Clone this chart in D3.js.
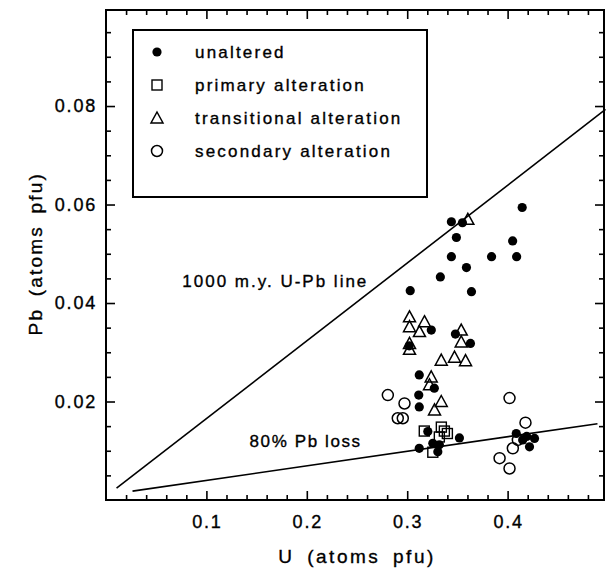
<!DOCTYPE html>
<html>
<head>
<meta charset="utf-8">
<script src="https://cdn.jsdelivr.net/npm/d3@7"></script>
<style>
  body { margin: 0; background: #fff; }
  text { font-family: "Liberation Sans", Arial, sans-serif; fill: #000; stroke: #000; stroke-width: 0.35px; }
</style>
</head>
<body>
<div id="chart-area"></div>
<script>
/* Data: [U, Pb] in atoms pfu */
var unaltered = [
  [0.344, 0.0565], [0.355, 0.0563], [0.349, 0.0533], [0.344, 0.0494], [0.359, 0.0472],
  [0.333, 0.0453], [0.303, 0.0425], [0.364, 0.0423], [0.384, 0.0494], [0.405, 0.0526],
  [0.409, 0.0494], [0.4145, 0.0594], [0.348, 0.0337], [0.363, 0.0318], [0.324, 0.0345],
  [0.302, 0.0313], [0.312, 0.0254], [0.327, 0.0227], [0.3115, 0.0213], [0.312, 0.0189],
  [0.3205, 0.0139], [0.312, 0.0105], [0.3255, 0.0115], [0.3305, 0.0098], [0.352, 0.0126],
  [0.332, 0.0112], [0.4086, 0.0135], [0.419, 0.0129], [0.4268, 0.0125], [0.4218, 0.0108],
  [0.415, 0.0122]
];
var primary = [
  [0.317, 0.0140], [0.334, 0.0148], [0.337, 0.0140], [0.340, 0.0135], [0.332, 0.0128],
  [0.3255, 0.0097]
];
var transitional = [
  [0.3604, 0.0570], [0.3538, 0.0345], [0.3538, 0.0321], [0.3471, 0.0290], [0.3581, 0.0283],
  [0.3339, 0.0284], [0.3023, 0.0372], [0.3023, 0.0352], [0.3172, 0.0362], [0.3122, 0.0342],
  [0.3023, 0.0318], [0.3023, 0.0306], [0.3239, 0.0250], [0.3222, 0.0234], [0.3339, 0.0200],
  [0.3272, 0.0183]
];
var secondary = [
  [0.2807, 0.0213], [0.2973, 0.0196], [0.2906, 0.0166], [0.2956, 0.0166], [0.4019, 0.0207],
  [0.4178, 0.0157], [0.4102, 0.0122], [0.4052, 0.0105], [0.3920, 0.0085], [0.4019, 0.0064]
];

// reference lines (end points)
var lineUPb = [[0.0105, 0.0024], [0.4975, 0.0793]];
var linePbLoss = [[0.0264, 0.0018], [0.4895, 0.0155]];

var xTicks = [0.1, 0.2, 0.3, 0.4];
var yTicks = [0.02, 0.04, 0.06, 0.08];
var legendNames = ["unaltered", "primary alteration", "transitional alteration", "secondary alteration"];

/* margins */
var margin = { top: 10, right: 2, bottom: 72, left: 106 };
var width = 606 - margin.left - margin.right;
var height = 572 - margin.top - margin.bottom;

var svg = d3.select("#chart-area").append("svg")
  .attr("width", 606)
  .attr("height", 572);

var g = svg.append("g")
  .attr("transform", "translate(" + margin.left + "," + margin.top + ")");

var x = d3.scaleLinear().domain([0, 0.496]).range([0, width]);
var y = d3.scaleLinear().domain([0, 0.0995]).range([height, 0]);

var xMinor = d3.range(0.02, 0.49, 0.02).filter(function(d){ return Math.abs(d*10 - Math.round(d*10)) > 1e-6; });
var yMinor = d3.range(0.005, 0.099, 0.005).filter(function(d){ return Math.abs(d*50 - Math.round(d*50)) > 1e-6; });

/* ticks on all four sides, pointing inward */
function tickAxis(axisFn, scale, vals, size, tr) {
  var a = g.append("g")
    .attr("transform", tr)
    .call(axisFn(scale).tickValues(vals).tickSize(size).tickFormat(""));
  a.select(".domain").remove();
  a.selectAll("line").attr("stroke", "#000").attr("stroke-width", 1.6);
  return a;
}
tickAxis(d3.axisBottom, x, xTicks, -9, "translate(0," + height + ")");
tickAxis(d3.axisBottom, x, xMinor, -5, "translate(0," + height + ")");
tickAxis(d3.axisTop, x, xTicks, -9, "translate(0,0)");
tickAxis(d3.axisTop, x, xMinor, -5, "translate(0,0)");
tickAxis(d3.axisLeft, y, yTicks, -9, "translate(0,0)");
tickAxis(d3.axisLeft, y, yMinor, -5, "translate(0,0)");
tickAxis(d3.axisRight, y, yTicks, -9, "translate(" + width + ",0)");
tickAxis(d3.axisRight, y, yMinor, -5, "translate(" + width + ",0)");

// tick labels
g.selectAll(".xlab").data(xTicks).enter().append("text")
  .attr("x", function(d){ return x(d) + 1; })
  .attr("y", height + 28)
  .attr("text-anchor", "middle")
  .attr("font-size", "18px")
  .attr("letter-spacing", "1.8px")
  .text(function(d){ return d.toFixed(1); });

g.selectAll(".ylab").data(yTicks).enter().append("text")
  .attr("x", -9)
  .attr("y", function(d){ return y(d) + 6; })
  .attr("text-anchor", "end")
  .attr("font-size", "18px")
  .attr("letter-spacing", "1.8px")
  .text(function(d){ return d.toFixed(2); });

// frame
g.append("rect")
  .attr("width", width).attr("height", height)
  .attr("fill", "none").attr("stroke", "#000").attr("stroke-width", 2);

// axis titles
g.append("text")
  .attr("x", x(0.25)).attr("y", height + 63)
  .attr("text-anchor", "middle").attr("font-size", "19px")
  .attr("letter-spacing", "2.5px").attr("word-spacing", "5px")
  .text("U (atoms pfu)");
g.append("text")
  .attr("transform", "rotate(-90)")
  .attr("x", -y(0.05)).attr("y", -64)
  .attr("text-anchor", "middle").attr("font-size", "19px")
  .attr("letter-spacing", "2.2px").attr("word-spacing", "4px")
  .text("Pb (atoms pfu)");

// reference lines
var line = d3.line().x(function(d){ return x(d[0]); }).y(function(d){ return y(d[1]); });
g.append("path").datum(lineUPb).attr("d", line)
  .attr("fill", "none").attr("stroke", "#000").attr("stroke-width", 1.6);
g.append("path").datum(linePbLoss).attr("d", line)
  .attr("fill", "none").attr("stroke", "#000").attr("stroke-width", 1.6);

g.append("text")
  .attr("x", x(0.076)).attr("y", y(0.0432))
  .attr("font-size", "17px").attr("letter-spacing", "2px")
  .text("1000 m.y. U-Pb line");
g.append("text")
  .attr("x", x(0.143)).attr("y", y(0.0108))
  .attr("font-size", "17px").attr("letter-spacing", "1.6px")
  .text("80% Pb loss");

/* symbols */
function drawDot(sel) {
  sel.append("circle").attr("r", 4.6).attr("fill", "#000");
}
function drawSquare(sel) {
  sel.append("rect").attr("x", -5).attr("y", -5).attr("width", 10).attr("height", 10)
    .attr("fill", "none").attr("stroke", "#000").attr("stroke-width", 1.4);
}
function drawTriangle(sel) {
  sel.append("path").attr("d", "M0,-6L6,5H-6Z")
    .attr("fill", "none").attr("stroke", "#000").attr("stroke-width", 1.5);
}
function drawCircle(sel) {
  sel.append("circle").attr("r", 5.5)
    .attr("fill", "none").attr("stroke", "#000").attr("stroke-width", 1.5);
}

function plot(data, cls, drawFn) {
  var pts = g.selectAll("." + cls).data(data).enter().append("g")
    .attr("class", cls)
    .attr("transform", function(d){ return "translate(" + x(d[0]) + "," + y(d[1]) + ")"; });
  drawFn(pts);
}
plot(unaltered, "unalt", drawDot);
plot(primary, "prim", drawSquare);
plot(transitional, "trans", drawTriangle);
plot(secondary, "sec", drawCircle);

/* legend */
var legend = g.append("g").attr("transform", "translate(27,20)");
legend.append("rect")
  .attr("width", 294).attr("height", 167)
  .attr("fill", "#fff").attr("stroke", "#000").attr("stroke-width", 2);
var drawFns = [drawDot, drawSquare, drawTriangle, drawCircle];
legendNames.forEach(function(name, i) {
  var row = legend.append("g").attr("transform", "translate(0," + (22 + i * 33) + ")");
  var sym = row.append("g").attr("transform", "translate(24,0)");
  drawFns[i](sym);
  row.append("text")
    .attr("x", 62).attr("y", 6)
    .attr("font-size", "17px").attr("letter-spacing", "2.2px")
    .text(name);
});
</script>
</body>
</html>
